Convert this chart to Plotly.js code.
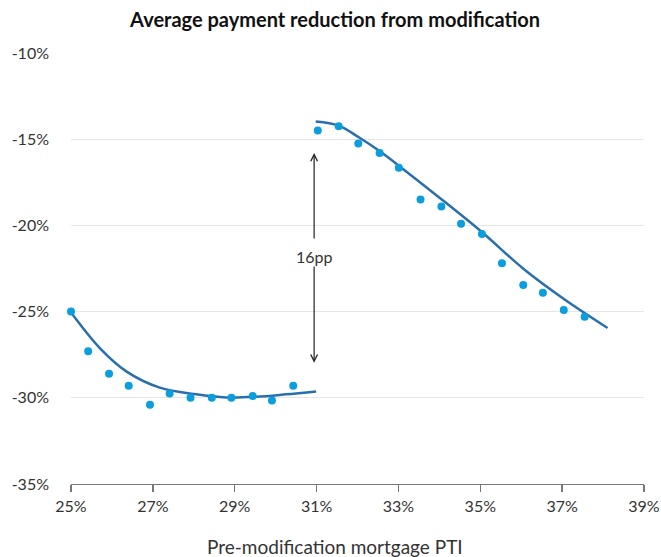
<!DOCTYPE html>
<html>
<head>
<meta charset="utf-8">
<script src="https://cdn.plot.ly/plotly-3.0.1.min.js"></script>
<style>
  html, body { margin: 0; padding: 0; background: #fff; }
  #chart { width: 661px; height: 557px; }
</style>
</head>
<body>
<div id="chart"></div>
<script>
// binned averages (dots)
const leftX  = [25.0, 25.42, 25.93, 26.41, 26.93, 27.41, 27.92, 28.44, 28.92, 29.44, 29.91, 30.43];
const leftY  = [-25.0, -27.3, -28.6, -29.3, -30.4, -29.75, -30.0, -30.0, -30.0, -29.9, -30.15, -29.3];
const rightX = [31.03, 31.54, 32.02, 32.54, 33.01, 33.54, 34.05, 34.53, 35.04, 35.53, 36.05, 36.53, 37.04, 37.55];
const rightY = [-14.5, -14.25, -15.25, -15.8, -16.65, -18.5, -18.9, -19.9, -20.5, -22.2, -23.45, -23.9, -24.9, -25.3];

// fitted curves on each side of the 31% cutoff
const leftFitX  = [25.0, 25.71, 26.36, 27.17, 28.06, 28.79, 29.52, 30.25, 30.99];
const leftFitY  = [-25.05, -27.13, -28.48, -29.41, -29.8, -29.98, -29.94, -29.8, -29.63];
const rightFitX = [30.98, 31.54, 32.03, 32.52, 33.0, 33.98, 35.03, 36.09, 37.06, 38.11];
const rightFitY = [-13.97, -14.21, -14.89, -15.66, -16.52, -18.35, -20.37, -22.59, -24.3, -25.95];

// axis ticks
const xTickVals = [25, 27, 29, 31, 33, 35, 37, 39];
const xTickText = ['25%', '27%', '29%', '31%', '33%', '35%', '37%', '39%'];
const yTickVals = [-35, -30, -25, -20, -15, -10];
const yTickText = ['-35%', '-30%', '-25%', '-20%', '-15%', '-10%'];

const FONT = 'Lato, "Open Sans", sans-serif';
const DOT = '#0a9fdc';
const FIT = '#2a6fad';

function dots(x, y) {
    return { x: x, y: y, type: 'scatter', mode: 'markers', cliponaxis: false,
             marker: { color: DOT, size: 8 }, hoverinfo: 'x+y' };
}
function fit(x, y) {
    return { x: x, y: y, type: 'scatter', mode: 'lines', cliponaxis: false,
             line: { color: FIT, width: 2.5, shape: 'spline', smoothing: 1 }, hoverinfo: 'skip' };
}

let data = [fit(leftFitX, leftFitY), fit(rightFitX, rightFitY), dots(leftX, leftY), dots(rightX, rightY)];

// the 16pp jump marker at the cutoff
const arrowX = 30.94;
let arrow = { xref: 'x', yref: 'y', axref: 'x', ayref: 'y', text: '', showarrow: true,
              arrowhead: 5, arrowsize: 1.1, arrowwidth: 1.2, arrowcolor: '#222', standoff: 0, startstandoff: 0 };

let layout = {
    width: 661, height: 557,
    margin: { l: 71, r: 17, t: 53, b: 73 },
    paper_bgcolor: '#fff', plot_bgcolor: '#fff',
    showlegend: false,
    font: { family: FONT, size: 16, color: '#333' },
    title: {
        text: '<b>Average payment reduction from modification</b>',
        font: { family: FONT, size: 20, color: '#111' },
        x: 0.507, xref: 'container', xanchor: 'center',
        y: 1 - 20 / 557, yref: 'container', yanchor: 'middle'
    },
    xaxis: {
        range: [25, 39], tickvals: xTickVals, ticktext: xTickText,
        showgrid: false, zeroline: false,
        showline: true, linecolor: '#777', linewidth: 1.3,
        ticks: 'outside', ticklen: 7, tickcolor: '#777', tickwidth: 1.3,
        ticklabeloverflow: 'allow',
        tickfont: { size: 16, color: '#333' }
    },
    yaxis: {
        range: [-35, -10], tickvals: yTickVals, ticktext: yTickText,
        showgrid: true, gridcolor: '#e6e6e6', gridwidth: 1,
        zeroline: false, showline: false, ticks: '',
        ticklabelstandoff: 21,
        tickfont: { size: 16, color: '#333' }
    },
    annotations: [
        Object.assign({}, arrow, { x: arrowX, y: -15.8, ax: arrowX, ay: -20.85 }),
        Object.assign({}, arrow, { x: arrowX, y: -27.96, ax: arrowX, ay: -22.3 }),
        { xref: 'x', yref: 'y', x: arrowX, y: -21.8, text: '16pp', showarrow: false,
          font: { family: FONT, size: 16, color: '#333' } },
        { xref: 'paper', yref: 'paper', x: 0.46, y: -0.144, xanchor: 'center', yanchor: 'middle',
          text: 'Pre-modification mortgage PTI', showarrow: false,
          font: { family: FONT, size: 19, color: '#333' } }
    ]
};

Plotly.newPlot('chart', data, layout, { displayModeBar: false, staticPlot: true });
</script>
</body>
</html>
